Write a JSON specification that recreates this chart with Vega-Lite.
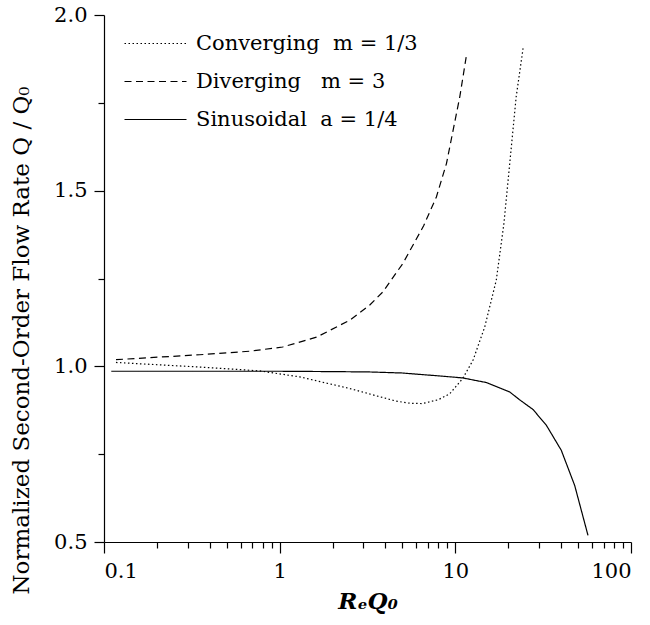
{
  "$schema": "https://vega.github.io/schema/vega-lite/v6.json",
  "width": 527,
  "height": 527,
  "autosize": {"type": "none"},
  "padding": {"left": 104, "top": 15, "right": 19, "bottom": 83},
  "config": {
    "font": "DejaVu Serif",
    "view": {"stroke": null},
    "axis": {"domainColor": "black", "tickColor": "black", "labelColor": "black", "titleColor": "black", "grid": false, "domainWidth": 1.2, "tickWidth": 1.2}
  },
  "data": {
    "values": [
      {"series": "Converging\u00a0\u00a0m = 1/3", "x": 0.117, "y": 1.011},
      {"series": "Converging\u00a0\u00a0m = 1/3", "x": 0.35, "y": 0.998},
      {"series": "Converging\u00a0\u00a0m = 1/3", "x": 0.77, "y": 0.987},
      {"series": "Converging\u00a0\u00a0m = 1/3", "x": 1.3, "y": 0.97},
      {"series": "Converging\u00a0\u00a0m = 1/3", "x": 2.5, "y": 0.937},
      {"series": "Converging\u00a0\u00a0m = 1/3", "x": 3.5, "y": 0.917},
      {"series": "Converging\u00a0\u00a0m = 1/3", "x": 4.6, "y": 0.901},
      {"series": "Converging\u00a0\u00a0m = 1/3", "x": 5.5, "y": 0.895},
      {"series": "Converging\u00a0\u00a0m = 1/3", "x": 6.5, "y": 0.894},
      {"series": "Converging\u00a0\u00a0m = 1/3", "x": 8.0, "y": 0.905},
      {"series": "Converging\u00a0\u00a0m = 1/3", "x": 9.3, "y": 0.922},
      {"series": "Converging\u00a0\u00a0m = 1/3", "x": 11.0, "y": 0.965},
      {"series": "Converging\u00a0\u00a0m = 1/3", "x": 12.6, "y": 1.017},
      {"series": "Converging\u00a0\u00a0m = 1/3", "x": 14.7, "y": 1.112},
      {"series": "Converging\u00a0\u00a0m = 1/3", "x": 17.1, "y": 1.245},
      {"series": "Converging\u00a0\u00a0m = 1/3", "x": 18.9, "y": 1.406},
      {"series": "Converging\u00a0\u00a0m = 1/3", "x": 20.4, "y": 1.577},
      {"series": "Converging\u00a0\u00a0m = 1/3", "x": 22.2, "y": 1.767},
      {"series": "Converging\u00a0\u00a0m = 1/3", "x": 24.3, "y": 1.905},
      {"series": "Diverging\u00a0\u00a0\u00a0m = 3", "x": 0.117, "y": 1.019},
      {"series": "Diverging\u00a0\u00a0\u00a0m = 3", "x": 0.35, "y": 1.033},
      {"series": "Diverging\u00a0\u00a0\u00a0m = 3", "x": 0.676, "y": 1.043},
      {"series": "Diverging\u00a0\u00a0\u00a0m = 3", "x": 1.04, "y": 1.055},
      {"series": "Diverging\u00a0\u00a0\u00a0m = 3", "x": 1.62, "y": 1.083},
      {"series": "Diverging\u00a0\u00a0\u00a0m = 3", "x": 2.5, "y": 1.131},
      {"series": "Diverging\u00a0\u00a0\u00a0m = 3", "x": 3.25, "y": 1.174},
      {"series": "Diverging\u00a0\u00a0\u00a0m = 3", "x": 3.87, "y": 1.212},
      {"series": "Diverging\u00a0\u00a0\u00a0m = 3", "x": 5.03, "y": 1.293},
      {"series": "Diverging\u00a0\u00a0\u00a0m = 3", "x": 6.6, "y": 1.4},
      {"series": "Diverging\u00a0\u00a0\u00a0m = 3", "x": 7.8, "y": 1.482},
      {"series": "Diverging\u00a0\u00a0\u00a0m = 3", "x": 8.9, "y": 1.577},
      {"series": "Diverging\u00a0\u00a0\u00a0m = 3", "x": 10.6, "y": 1.767},
      {"series": "Diverging\u00a0\u00a0\u00a0m = 3", "x": 11.6, "y": 1.889},
      {"series": "Sinusoidal\u00a0\u00a0a = 1/4", "x": 0.11, "y": 0.986},
      {"series": "Sinusoidal\u00a0\u00a0a = 1/4", "x": 0.5, "y": 0.986},
      {"series": "Sinusoidal\u00a0\u00a0a = 1/4", "x": 1.0, "y": 0.986},
      {"series": "Sinusoidal\u00a0\u00a0a = 1/4", "x": 2.0, "y": 0.985},
      {"series": "Sinusoidal\u00a0\u00a0a = 1/4", "x": 3.25, "y": 0.984},
      {"series": "Sinusoidal\u00a0\u00a0a = 1/4", "x": 5.0, "y": 0.981},
      {"series": "Sinusoidal\u00a0\u00a0a = 1/4", "x": 6.27, "y": 0.977},
      {"series": "Sinusoidal\u00a0\u00a0a = 1/4", "x": 8.0, "y": 0.973},
      {"series": "Sinusoidal\u00a0\u00a0a = 1/4", "x": 11.0, "y": 0.967},
      {"series": "Sinusoidal\u00a0\u00a0a = 1/4", "x": 15.0, "y": 0.954},
      {"series": "Sinusoidal\u00a0\u00a0a = 1/4", "x": 20.4, "y": 0.927},
      {"series": "Sinusoidal\u00a0\u00a0a = 1/4", "x": 23.2, "y": 0.905},
      {"series": "Sinusoidal\u00a0\u00a0a = 1/4", "x": 27.7, "y": 0.877},
      {"series": "Sinusoidal\u00a0\u00a0a = 1/4", "x": 33.0, "y": 0.832},
      {"series": "Sinusoidal\u00a0\u00a0a = 1/4", "x": 40.1, "y": 0.761},
      {"series": "Sinusoidal\u00a0\u00a0a = 1/4", "x": 47.8, "y": 0.661},
      {"series": "Sinusoidal\u00a0\u00a0a = 1/4", "x": 56.9, "y": 0.519}
    ]
  },
  "layer": [
    {
      "mark": {"type": "line", "color": "black", "strokeWidth": 1.2},
      "encoding": {
        "x": {
          "field": "x", "type": "quantitative",
          "scale": {"type": "log", "domain": [0.1, 100], "nice": false},
          "axis": {"values": [0.1, 1, 10, 100], "format": "~g", "tickSize": 11, "labelFontSize": 21, "labelPadding": 7, "title": "RₑQ₀", "titleFontSize": 23, "titleFontStyle": "italic", "titleFontWeight": "bold", "titlePadding": 9}
        },
        "y": {
          "field": "y", "type": "quantitative",
          "scale": {"domain": [0.5, 2], "nice": false, "zero": false},
          "axis": {"values": [0.5, 1, 1.5, 2], "format": ".1f", "tickSize": 10, "labelFontSize": 21, "labelPadding": 7, "title": "Normalized Second-Order Flow Rate Q / Q₀", "titleFontSize": 23, "titleFontWeight": "normal", "titleY": 325, "titlePadding": 20}
        },
        "strokeDash": {
          "field": "series", "type": "nominal",
          "scale": {
            "domain": ["Converging\u00a0\u00a0m = 1/3", "Diverging\u00a0\u00a0\u00a0m = 3", "Sinusoidal\u00a0\u00a0a = 1/4"],
            "range": [[1.5, 2.5], [7, 4.5], [1, 0]]
          },
          "legend": {
            "orient": "none", "legendX": 41, "legendY": 18, "title": null, "padding": 0,
            "symbolType": "M-6.2,0H6.2", "symbolSize": 100, "symbolStrokeWidth": 1.2, "symbolStrokeColor": "black", "symbolFillColor": "transparent",
            "labelFontSize": 21, "labelColor": "black", "labelOffset": 30, "rowPadding": 16, "labelLimit": 400
          }
        }
      }
    },
    {
      "mark": {"type": "line", "opacity": 0},
      "encoding": {
        "x": {
          "field": "x", "type": "quantitative",
          "axis": {"orient": "bottom", "values": [0.2, 0.3, 0.4, 0.5, 0.6, 0.7, 0.8, 0.9, 2, 3, 4, 5, 6, 7, 8, 9, 20, 30, 40, 50, 60, 70, 80, 90], "labels": false, "domain": false, "tickSize": 6, "title": null}
        },
        "y": {
          "field": "y", "type": "quantitative",
          "axis": {"orient": "left", "values": [0.75, 1.25, 1.75], "labels": false, "domain": false, "tickSize": 6, "title": null}
        },
        "detail": {"field": "series", "type": "nominal"}
      }
    }
  ],
  "resolve": {"axis": {"x": "independent", "y": "independent"}}
}
